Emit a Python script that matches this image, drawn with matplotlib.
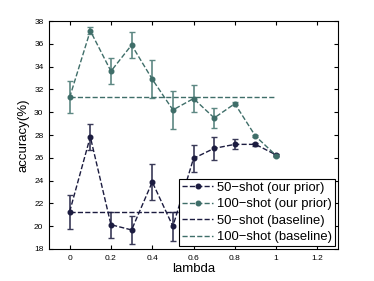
import matplotlib.pyplot as plt
import numpy as np

plt.rcParams['font.family'] = ['Liberation Sans', 'DejaVu Sans']

lam = [0, 0.1, 0.2, 0.3, 0.4, 0.5, 0.6, 0.7, 0.8, 0.9, 1.0]

acc50 = [21.27, 27.85, 20.13, 19.67, 23.88, 19.99, 25.95, 26.83, 27.18, 27.18, 26.25]
err50 = [1.5, 1.15, 1.15, 1.25, 1.6, 1.25, 1.2, 1.0, 0.45, 0.1, 0.1]

acc100 = [31.3, 37.15, 33.6, 35.9, 32.9, 30.2, 31.2, 29.5, 30.75, 27.9, 26.2]
err100 = [1.4, 0.3, 1.15, 1.1, 1.65, 1.65, 1.15, 0.9, 0.15, 0.1, 0.1]

base50 = 21.27
base100 = 31.3

c50 = '#1c1c40'
c100 = '#3f6e69'

fig = plt.figure(figsize=(3.74, 2.81), dpi=100)
ax = fig.add_axes([0.131, 0.114, 0.773, 0.811])

h1 = ax.errorbar(lam, acc50, yerr=err50, fmt='--', color=c50, marker='o', markersize=3.3,
                 ecolor='#3a3a58', elinewidth=1.2, capsize=2, lw=1)
h2 = ax.errorbar(lam, acc100, yerr=err100, fmt='--', color=c100, marker='o', markersize=3.3,
                 ecolor='#5d8883', elinewidth=1.2, capsize=2, lw=1)
h3, = ax.plot([lam[0], lam[-1]], [base50, base50], '--', color=c50, lw=1)
h4, = ax.plot([lam[0], lam[-1]], [base100, base100], '--', color=c100, lw=1)

ax.set_xlim(-0.1, 1.3)
ax.set_ylim(18, 38)
ax.set_xticks([0, 0.2, 0.4, 0.6, 0.8, 1.0, 1.2])
ax.set_xticklabels(['0', '0.2', '0.4', '0.6', '0.8', '1', '1.2'])
ax.set_yticks(np.arange(18, 39, 2))
ax.tick_params(direction='in', top=True, right=True, labelsize=6, length=3, pad=4)
ax.set_xlabel('lambda', fontsize=9.5, labelpad=1)
ax.set_ylabel('accuracy(%)', fontsize=9.5, labelpad=3)

labels = ['50\u2212shot (our prior)', '100\u2212shot (our prior)',
          '50\u2212shot (baseline)', '100\u2212shot (baseline)']
leg = ax.legend([h1[0], h2[0], h3, h4], labels, loc='lower right', fontsize=9.4,
                frameon=True, fancybox=False, edgecolor='black', framealpha=1,
                borderpad=0.2, labelspacing=0.33, handlelength=2.4,
                handletextpad=0.3, borderaxespad=0.25)
leg.get_frame().set_linewidth(0.8)

plt.savefig('out.png', dpi=100)
